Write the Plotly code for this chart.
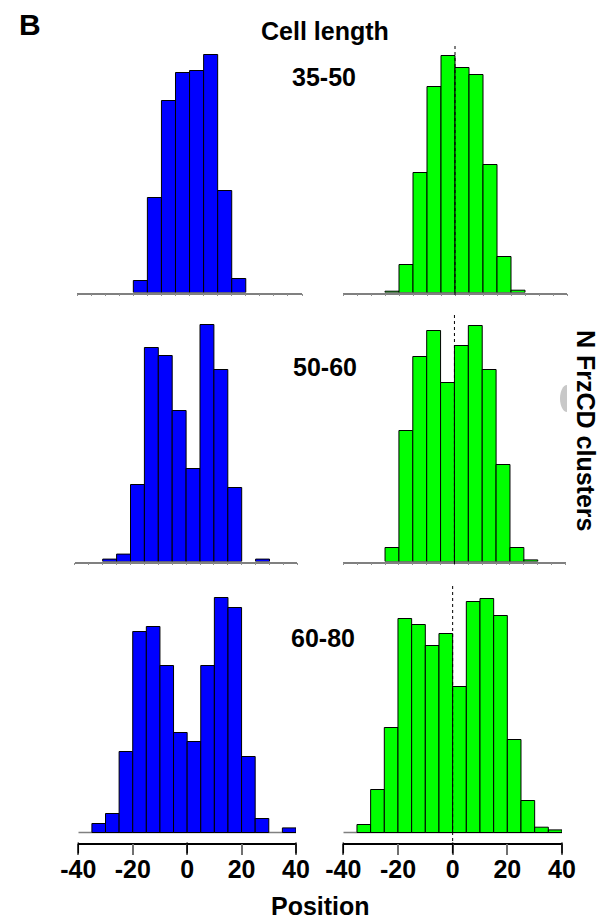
import plotly.graph_objects as go

# ---------------- data ----------------
# histogram bins of width 5 covering -40..40 (bin centres)
bin_centers = [-37.5, -32.5, -27.5, -22.5, -17.5, -12.5, -7.5, -2.5,
               2.5, 7.5, 12.5, 17.5, 22.5, 27.5, 32.5, 37.5]
bin_width = 5

cell_length_groups = ["35-50", "50-60", "60-80"]

# N FrzCD clusters (relative counts), blue = left column
blue_35_50 = [0, 0, 0, 0, 12, 95, 192, 220, 222, 238, 102, 14, 0, 0, 0, 0]
blue_50_60 = [0, 0, 2.4, 7.4, 77, 214, 206, 151, 93, 237, 192, 74, 0, 2.4, 0, 0]
blue_60_80 = [0, 9, 19, 81, 201, 206, 167, 100, 91, 167, 235, 225, 76, 14, 0, 4.6]

# green = right column
green_35_50 = [0, 0, 0, 1.3, 28, 120, 206, 237, 225, 218, 128, 36, 2.3, 0, 0, 0]
green_50_60 = [0, 0, 0, 14, 131, 205, 231, 179, 216, 236, 192, 97, 14, 1.6, 0, 0]
green_60_80 = [0, 8, 43, 105, 214, 208, 187, 199, 146, 231, 234, 217, 93, 32, 5.3, 2.6]

x_tick_vals = [-40, -20, 0, 20, 40]
x_tick_text = ["-40", "-20", "0", "20", "40"]
x_black_ticks = [-40, 0, 40]      # the others are drawn grey

# ---------------- layout helpers (window pixel -> paper) ----------------
OFF = 8                      # default page body margin
W, H = 605 - OFF, 923 - OFF


def xp(px):
    return (px - OFF) / W


def yp(py):
    return 1 - (py - OFF) / H


FONT = "Liberation Sans, Arial, Helvetica, sans-serif"

panels = [
    # (values, colour, x-domain px, row)
    (blue_35_50, "#0000FF", (77.1, 302.0), 0),
    (green_35_50, "#00FF00", (343.0, 567.0), 0),
    (blue_50_60, "#0000FF", (74.9, 297.3), 1),
    (green_50_60, "#00FF00", (343.4, 565.5), 1),
    (blue_60_80, "#0000FF", (78.3, 296.0), 2),
    (green_60_80, "#00FF00", (343.3, 562.0), 2),
]

row_px = [(46.0, 292.5), (315.0, 561.5), (586.0, 842.5)]
row_range = [[0, 246.5], [0, 246.5], [-10, 246.5]]
X_RANGE = [-40, 40]
TICKLEN = 11

fig = go.Figure()
layout = dict(
    width=W, height=H, autosize=False,
    margin=dict(l=0, r=0, t=0, b=0, pad=0, autoexpand=False),
    paper_bgcolor="white", plot_bgcolor="rgba(0,0,0,0)",
    showlegend=False,
    font=dict(family=FONT, color="black"),
)
shapes = []

for i, (vals, colour, (x0px, x1px), row) in enumerate(panels):
    n = i + 1
    xa = "x" if n == 1 else f"x{n}"
    ya = "y" if n == 1 else f"y{n}"
    fig.add_trace(go.Bar(
        x=bin_centers,
        y=[v if v > 0 else None for v in vals],
        width=bin_width,
        marker=dict(color=colour, line=dict(color="black", width=1)),
        xaxis=xa, yaxis=ya, hoverinfo="skip",
    ))
    top_px, bot_px = row_px[row]
    xkey = "xaxis" if n == 1 else f"xaxis{n}"
    ykey = "yaxis" if n == 1 else f"yaxis{n}"
    if row < 2:
        layout[xkey] = dict(
            domain=[xp(x0px), xp(x1px)], anchor=ya, range=X_RANGE,
            showgrid=False, zeroline=False, showline=True,
            linecolor="#808080", linewidth=1.5,
            ticks="outside", ticklen=2, tickcolor="#909090", tickwidth=1,
            tick0=-40, dtick=5, showticklabels=False, fixedrange=True,
            automargin=False,
        )
    else:
        layout[xkey] = dict(
            domain=[xp(x0px), xp(x1px)], anchor=ya, range=X_RANGE,
            showgrid=False, zeroline=False, showline=True,
            linecolor="black", linewidth=1.5,
            ticks="outside", ticklen=TICKLEN, tickcolor="#707070", tickwidth=1.5,
            tickmode="array", tickvals=x_tick_vals, ticktext=x_tick_text,
            tickfont=dict(family=FONT, size=25, color="black", weight="bold"),
            ticklabelstandoff=-7,
            fixedrange=True, automargin=False,
        )
        # grey baseline of the histogram
        shapes.append(dict(type="line", xref=xa, yref=ya, x0=-40, x1=40, y0=0, y1=0,
                           line=dict(color="#808080", width=1.5), layer="below"))
        # black major ticks at -40, 0, 40
        for v in x_black_ticks:
            f = (v - X_RANGE[0]) / (X_RANGE[1] - X_RANGE[0])
            shapes.append(dict(type="line", xref=f"{xa} domain", yref="paper",
                               x0=f, x1=f, y0=yp(bot_px), y1=yp(bot_px + TICKLEN),
                               line=dict(color="black", width=1.5)))
    layout[ykey] = dict(
        domain=[yp(bot_px), yp(top_px)], anchor=xa, range=row_range[row],
        visible=False, fixedrange=True, automargin=False,
    )
    # dotted zero line in the green panels
    if colour == "#00FF00":
        shapes.append(dict(type="line", xref=f"{xa} domain", yref="paper",
                           x0=0.5, x1=0.5, y0=yp(top_px), y1=yp(bot_px + 5),
                           line=dict(color="black", width=1, dash="dot")))

# small grey artefact on the right margin
cx, cy, rx, ry = 567.0, 398.5, 7.0, 13.5
k = 0.5523
pts = [
    (cx, cy - ry), (cx - rx * k, cy - ry), (cx - rx, cy - ry * k), (cx - rx, cy),
    (cx - rx, cy + ry * k), (cx - rx * k, cy + ry), (cx, cy + ry),
]
p = [(xp(a), yp(b)) for a, b in pts]
path = (f"M {p[0][0]},{p[0][1]} C {p[1][0]},{p[1][1]} {p[2][0]},{p[2][1]} {p[3][0]},{p[3][1]} "
        f"C {p[4][0]},{p[4][1]} {p[5][0]},{p[5][1]} {p[6][0]},{p[6][1]} Z")
shapes.append(dict(type="path", xref="paper", yref="paper", path=path,
                   fillcolor="#c8c8c8", line=dict(width=0)))

layout["shapes"] = shapes


def ann(text, x, y, size, angle=0):
    return dict(text=text, x=xp(x), y=yp(y), xref="paper", yref="paper",
                xanchor="center", yanchor="middle", showarrow=False, textangle=angle,
                font=dict(family=FONT, size=size, color="black", weight="bold"))


annotations = [
    ann("B", 30, 24.5, 30),
    ann("Cell length", 325, 31, 25),
    ann(cell_length_groups[0], 324, 77, 25),
    ann(cell_length_groups[1], 325, 367, 25),
    ann(cell_length_groups[2], 323, 638, 25),
    ann("N FrzCD clusters", 586, 430, 25, angle=90),
    ann("Position", 320, 906, 25),
]
layout["annotations"] = annotations

fig.update_layout(**layout)
fig.write_html("out.html")
